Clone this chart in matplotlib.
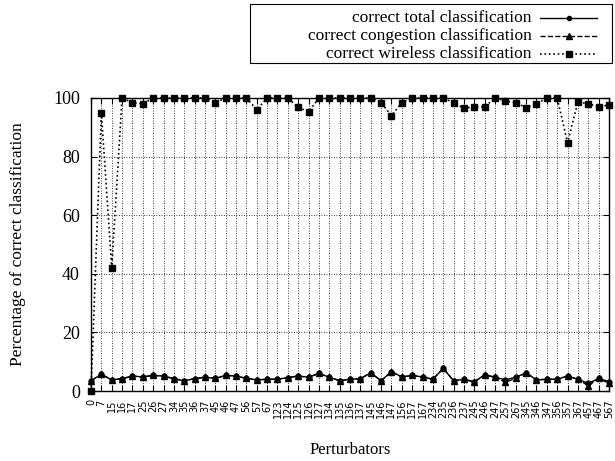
import matplotlib
matplotlib.use("Agg")
import matplotlib.pyplot as plt
from matplotlib.lines import Line2D
from matplotlib.patches import Rectangle

perturbators = ["0", "7", "15", "16", "17", "25", "26", "27", "34", "35", "36", "37",
                "45", "46", "47", "56", "57", "67", "123", "124", "125", "126", "127",
                "134", "135", "136", "137", "145", "146", "147", "156", "157", "167",
                "234", "235", "236", "237", "245", "246", "247", "257", "267", "345",
                "346", "347", "356", "357", "367", "457", "467", "567"]

total = [3.5, 5.7, 3.8, 4.2, 5.1, 4.8, 5.3, 5.1, 4.2, 3.5, 4.2, 4.7,
         4.3, 5.3, 5.1, 4.3, 3.8, 4.0, 4.0, 4.6, 5.1, 4.7, 6.0,
         4.7, 3.5, 4.0, 4.2, 6.2, 3.5, 6.6, 4.8, 5.3, 4.8,
         4.0, 7.7, 3.5, 4.0, 3.2, 5.5, 4.7, 3.8, 4.7, 6.2,
         3.8, 4.0, 4.0, 5.1, 4.0, 2.6, 4.3, 3.2]

congestion = [3.5, 5.7, 3.8, 4.2, 5.1, 4.8, 5.3, 5.1, 4.2, 3.5, 4.2, 4.7,
              4.3, 5.3, 5.1, 4.3, 3.8, 4.0, 4.0, 4.6, 5.1, 4.7, 6.0,
              4.7, 3.5, 4.0, 4.2, 6.2, 3.5, 6.6, 4.8, 5.3, 4.8,
              4.0, 7.7, 3.5, 4.0, 3.0, 5.5, 4.7, 3.0, 4.3, 6.2,
              3.8, 4.0, 4.0, 5.1, 4.0, 1.8, 4.3, 2.6]

wireless = [0, 95, 42, 100, 98.4, 98, 100, 100, 100, 100, 100, 100,
            98.4, 100, 100, 100, 96, 100, 100, 100, 96.8, 95.3, 100,
            100, 100, 100, 100, 100, 98.4, 94, 98.4, 100, 100,
            100, 100, 98.4, 96.5, 97, 97, 100, 99, 98.4, 96.7,
            98, 100, 100, 84.7, 98.7, 98, 97, 97.6]

y_ticks = [0, 20, 40, 60, 80, 100]
series_labels = ["correct total classification", "correct congestion classification",
                 "correct wireless classification"]

serif = "Liberation Serif"
W, H = 615, 461
x = list(range(len(perturbators)))

fig = plt.figure(figsize=(W / 100, H / 100), dpi=100)
ax = fig.add_axes([91 / W, 70 / H, 518 / W, 293 / H])

styles = [dict(ls="-", lw=1.0, marker="o", ms=3.5),
          dict(ls="--", lw=1.0, marker="^", ms=4.8),
          dict(ls=":", lw=1.2, marker="s", ms=4.5)]

for values, st in zip([total, congestion, wireless], styles):
    ax.plot(x, values, color="black", clip_on=False, zorder=3, **st)

ax.set_xlim(0, len(perturbators) - 1)
ax.set_ylim(0, 100)
ax.set_xticks(x)
ax.set_xticklabels(perturbators, rotation=90, fontsize=7, family="DejaVu Sans",
                   va="top", ha="center")
ax.set_yticks(y_ticks)
ax.set_yticklabels([str(v) for v in y_ticks], fontsize=13, family=serif)

ax.tick_params(axis="both", direction="in", top=True, right=True, length=4, width=0.8)
ax.tick_params(axis="x", pad=6)
ax.tick_params(axis="y", pad=8)
ax.grid(True, linestyle=(0, (1, 2)), color="black", lw=0.6)
for s in ax.spines.values():
    s.set_linewidth(1.0)

ax.set_ylabel("Percentage of correct classification", fontsize=12.5, family=serif)
ax.yaxis.set_label_coords(-0.125, 0.5)
fig.text(0.57, 1 - 450 / H, "Perturbators", fontsize=12, family=serif,
         ha="center", va="center")


def px(xp, yp):
    """Pixel position (from top-left) to figure fraction."""
    return xp / W, 1 - yp / H


# key box above the plot area, laid out in pixels
bx0, by0 = px(250, 63)
bx1, by1 = px(612, 4)
fig.patches.append(Rectangle((bx0, by0), bx1 - bx0, by1 - by0, transform=fig.transFigure,
                             fill=False, edgecolor="black", lw=0.8))
for row, (label, st) in enumerate(zip(series_labels, styles)):
    yrow = 18 + 18 * row
    tx, ty = px(532, yrow)
    fig.text(tx, ty, label, fontsize=12.5, family=serif, ha="right", va="center")
    lx0, ly = px(540, yrow)
    lx1, _ = px(597, yrow)
    fig.add_artist(Line2D([lx0, lx1], [ly, ly], transform=fig.transFigure, color="black",
                          ls=st["ls"], lw=st["lw"]))
    fig.add_artist(Line2D([(lx0 + lx1) / 2], [ly], transform=fig.transFigure,
                          color="black", ls="none", marker=st["marker"],
                          ms=st["ms"] * 0.85))

fig.savefig("out.png", dpi=100)
